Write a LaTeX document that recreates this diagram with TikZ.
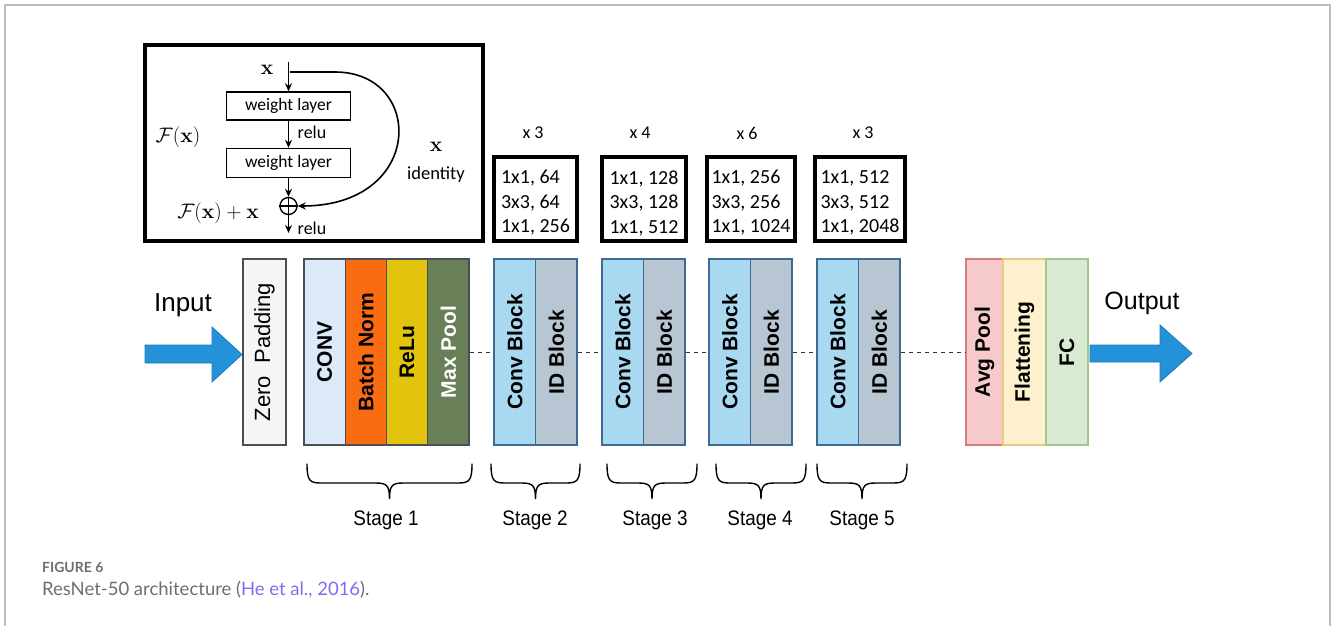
\RequirePackage{fix-cm}
\documentclass[tikz,border=0pt]{standalone}
\usepackage[no-math]{fontspec}
\setmainfont{Liberation Sans}
\newfontfamily\calib{Carlito}
\newfontfamily\capfont{Lato}
\usetikzlibrary{arrows.meta}

\definecolor{framec}{HTML}{BDBDBD}
\definecolor{edgec}{HTML}{4A4F57}
\definecolor{padc}{HTML}{F5F5F5}
\definecolor{convc}{HTML}{DCE9F8}
\definecolor{bnc}{HTML}{F96C12}
\definecolor{reluc}{HTML}{E3C40C}
\definecolor{mpc}{HTML}{687F57}
\definecolor{cbc}{HTML}{A9D8F1}
\definecolor{cbe}{HTML}{3E6A95}
\definecolor{idc}{HTML}{B8C5D2}
\definecolor{avgc}{HTML}{F6CACA}
\definecolor{avge}{HTML}{D77C7C}
\definecolor{flatc}{HTML}{FCF0CD}
\definecolor{flate}{HTML}{E6CB86}
\definecolor{fcc}{HTML}{D8EAD2}
\definecolor{fce}{HTML}{9DC98B}
\definecolor{arrc}{HTML}{2392D8}
\definecolor{arre}{HTML}{1C7CBC}
\definecolor{capgray}{HTML}{6E6E6E}
\definecolor{linkc}{HTML}{7F6CF2}

% curly brace under a stage: #1 = left x, #2 = right x
\newcommand{\stagebrace}[2]{%
  \pgfmathsetmacro\bmid{(#1+#2)/2}%
  \draw[bracestyle] (#1,464) .. controls (#1,481) and (#1+3,483) .. (#1+14,483)
    -- (\bmid-14,483) .. controls (\bmid-3,483) and (\bmid,485) .. (\bmid,499)
    .. controls (\bmid,485) and (\bmid+3,483) .. (\bmid+14,483)
    -- (#2-14,483) .. controls (#2-3,483) and (#2,481) .. (#2,464);%
}

\begin{document}
\begin{tikzpicture}[x=1pt,y=-1pt,
  lay/.style={draw=edgec, line width=1.1pt, rotate=90, minimum width=186pt,
    inner sep=0pt, font=\fontsize{21}{25}\selectfont\bfseries},
  cfg/.style={draw, line width=4pt, minimum height=84pt, inner sep=0pt},
  cfgtext/.style={align=left, inner sep=0pt, font=\calib\fontsize{20}{24.5}\selectfont},
  rep/.style={font=\calib\fontsize{18}{21}\selectfont},
  wl/.style={draw, line width=1.4pt, minimum width=124pt, inner sep=0pt,
    font=\calib\fontsize{17.5}{20}\selectfont},
  small/.style={font=\calib\fontsize{18}{21}\selectfont, inner sep=0pt},
  mth/.style={font=\fontsize{21}{25}\selectfont, inner sep=0pt},
  arr/.style={-{Stealth[length=8pt,width=7pt]}, line width=1.6pt},
  dashedline/.style={draw=black!80, line width=1pt, dash pattern=on 4pt off 4pt},
  bigarrow/.style={fill=arrc, draw=arre, line width=0.8pt},
  bracestyle/.style={line width=1.4pt, line cap=round},
  stagel/.style={font=\fontsize{21}{25}\selectfont},
  io/.style={font=\fontsize{26}{30}\selectfont}
]
\useasboundingbox (0,0) rectangle (1332,626);

% outer frame
\draw[framec, line width=2pt] (5,626) -- (5,5) -- (1330,5) -- (1330,626);

% residual block inset
\node[draw, line width=4pt, minimum width=338pt, minimum height=196pt] (res) at (314,143) {};
\node[mth] (xl) at (267,70) {$\mathbf{x}$};
\coordinate (xin) at (288.5,62);
\node[wl, minimum height=28pt] (w1) at (288.5,106) {weight layer};
\node[wl, minimum height=29pt] (w2) at (288.5,163) {weight layer};
\node[circle, draw, line width=1.4pt, minimum size=17pt, inner sep=0pt] (plus) at (288.5,206) {};
\draw[line width=1.4pt] (plus.north) -- (plus.south) (plus.west) -- (plus.east);
\coordinate (out) at (288.5,233);
\coordinate (skip) at (290,72);
\draw[arr] (xin) -- (w1.north);
\draw[arr] (w1.south) -- (w2.north);
\draw[arr] (w2.south) -- (plus.north);
\draw[arr] (plus.south) -- (out);
\draw[arr] (skip) -- (335,72) .. controls (425,72) and (425,206) .. (plus.east);
\node[small] (r1) at (312,132) {relu};
\node[small] (r2) at (312,228) {relu};
\node[mth] (fx) at (178,137) {$\mathcal{F}(\mathbf{x})$};
\node[mth] (fxx) at (218,213) {$\mathcal{F}(\mathbf{x})+\mathbf{x}$};
\node[mth] (xr) at (436,147) {$\mathbf{x}$};
\node[small, font=\calib\fontsize{18.5}{21}\selectfont] (idl) at (436,175) {identity};

% bottleneck configurations
\node[cfg, minimum width=83pt] (c2) at (535.5,199) {};
\node[cfg, minimum width=84pt] (c3) at (644,199) {};
\node[cfg, minimum width=88pt] (c4) at (751,199) {};
\node[cfg, minimum width=90pt] (c5) at (860,199) {};
\node[cfgtext] (t2) at ([yshift=-4pt]c2.center) {1x1, 64\\3x3, 64\\1x1, 256};
\node[cfgtext] (t3) at ([yshift=-4pt]c3.center) {1x1, 128\\3x3, 128\\1x1, 512};
\node[cfgtext] (t4) at ([yshift=-4pt]c4.center) {1x1, 256\\3x3, 256\\1x1, 1024};
\node[cfgtext] (t5) at ([yshift=-4pt]c5.center) {1x1, 512\\3x3, 512\\1x1, 2048};
\node[rep] (n2) at (533,133) {x 3};
\node[rep] (n3) at (640,133) {x 4};
\node[rep] (n4) at (747,133) {x 6};
\node[rep] (n5) at (863,133) {x 3};

% input arrow
\draw[bigarrow] (145,345) -- (212,345) -- (212,327) -- (242,354.5) -- (212,382) -- (212,363) -- (145,363) -- cycle;
\node[io] (inp) at (183,305) {Input};

% layers
\node[lay, fill=padc, minimum height=43pt, font=\fontsize{22}{26}\selectfont] (zp) at (264.5,352) {Zero\ \ Padding};
\node[lay, fill=convc, minimum height=41.25pt] (conv) at (324.6,352) {CONV};
\node[lay, fill=bnc, minimum height=41.25pt] (bn) at (365.9,352) {Batch Norm};
\node[lay, fill=reluc, minimum height=41.25pt] (relu) at (407.1,352) {ReLu};
\node[lay, fill=mpc, minimum height=41.25pt, text=white] (mp) at (448.4,352) {Max Pool};

\node[lay, draw=cbe, fill=cbc, minimum height=41.5pt] (cb2) at (514.75,352) {Conv Block};
\node[lay, draw=cbe, fill=idc, minimum height=41.5pt] (id2) at (556.25,352) {ID Block};
\node[lay, draw=cbe, fill=cbc, minimum height=41.5pt] (cb3) at (622.75,352) {Conv Block};
\node[lay, draw=cbe, fill=idc, minimum height=41.5pt] (id3) at (664.25,352) {ID Block};
\node[lay, draw=cbe, fill=cbc, minimum height=41.5pt] (cb4) at (729.75,352) {Conv Block};
\node[lay, draw=cbe, fill=idc, minimum height=41.5pt] (id4) at (771.25,352) {ID Block};
\node[lay, draw=cbe, fill=cbc, minimum height=41.5pt] (cb5) at (837.75,352) {Conv Block};
\node[lay, draw=cbe, fill=idc, minimum height=41.5pt] (id5) at (879.25,352) {ID Block};

\node[lay, draw=avge, fill=avgc, minimum height=37pt] (avg) at (984.5,352) {Avg Pool};
\node[lay, draw=flate, fill=flatc, minimum height=43pt] (flat) at (1024.5,352) {Flattening};
\node[lay, draw=fce, fill=fcc, minimum height=42pt] (fc) at (1067,352) {FC};

% connections between stages
\draw[dashedline] (mp.south) -- (cb2.north);
\draw[dashedline] (id2.south) -- (cb3.north);
\draw[dashedline] (id3.south) -- (cb4.north);
\draw[dashedline] (id4.south) -- (cb5.north);
\draw[dashedline] (id5.south) -- (avg.north);

% output arrow
\draw[bigarrow] (1090,345) -- (1160,345) -- (1160,325) -- (1192,353.5) -- (1160,382) -- (1160,362) -- (1090,362) -- cycle;
\node[io, font=\fontsize{25}{29}\selectfont] (outp) at (1142,303) {Output};

% stage braces
\stagebrace{307}{472}
\stagebrace{491}{580}
\stagebrace{607}{697}
\stagebrace{716}{806}
\stagebrace{817}{907}
\node[stagel] (s1) at (386,520) {\scalebox{0.9}[1]{Stage 1}};
\node[stagel] (s2) at (535,520) {\scalebox{0.9}[1]{Stage 2}};
\node[stagel] (s3) at (655,520) {\scalebox{0.9}[1]{Stage 3}};
\node[stagel] (s4) at (760,520) {\scalebox{0.9}[1]{Stage 4}};
\node[stagel] (s5) at (862,520) {\scalebox{0.9}[1]{Stage 5}};

% caption
\node[anchor=west, inner sep=0pt, text=capgray, font=\capfont\bfseries\fontsize{14}{17}\selectfont] (fig) at (42,567) {FIGURE 6};
\node[anchor=west, inner sep=0pt, text=capgray, font=\capfont\fontsize{18.5}{22}\selectfont] (cap) at (42,590) {ResNet-50 architecture (\textcolor{linkc}{He et al., 2016}).};
\end{tikzpicture}
\end{document}
